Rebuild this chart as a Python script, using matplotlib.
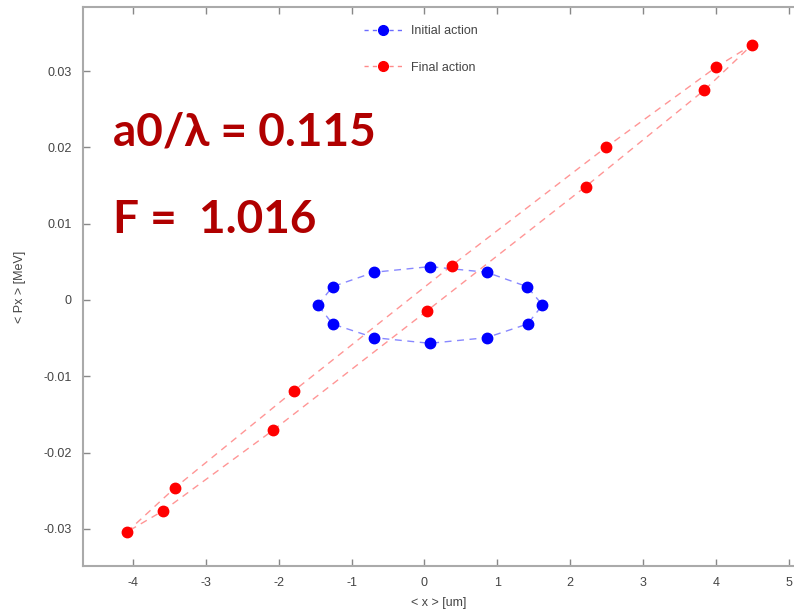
import matplotlib.pyplot as plt

# initial action: ring of 12 test particles
x_init = [-1.46, -1.26, -0.69, 0.075, 0.853, 1.41, 1.62, 1.415, 0.853, 0.075, -0.69, -1.26]
px_init = [-0.00066, 0.00174, 0.00363, 0.00437, 0.00363, 0.00174,
           -0.00066, -0.00315, -0.00494, -0.00568, -0.00494, -0.00315]

# final action: same 12 particles after the interaction
x_final = [-4.08, -3.42, -1.79, 0.373, 2.49, 4.0, 4.49, 3.84, 2.21, 0.034, -2.08, -3.58]
px_final = [-0.0304, -0.0246, -0.0119, 0.0045, 0.0200, 0.0305,
            0.0334, 0.0275, 0.01485, -0.00144, -0.0171, -0.0276]

xticks = [-4, -3, -2, -1, 0, 1, 2, 3, 4, 5]
yticks = [-0.03, -0.02, -0.01, 0, 0.01, 0.02, 0.03]
ytick_labels = ["-0.03", "-0.02", "-0.01", "0", "0.01", "0.02", "0.03"]

plt.rcParams["font.family"] = ["Liberation Sans", "DejaVu Sans"]
plt.rcParams["axes.unicode_minus"] = False

fig = plt.figure(figsize=(7.94, 6.13), dpi=100)
ax = fig.add_axes([0.104, 0.0767, 0.896, 0.912])

def closed(v):
    return list(v) + [v[0]]

ax.plot(closed(x_init), closed(px_init), ls=(0, (5, 4)), lw=1.0,
        color="#6b6bff", alpha=0.8)
ax.plot(x_init, px_init, ls="none", marker="o", ms=7.5, color="#0000ff",
        mec="#0000ff")
ax.plot(closed(x_final), closed(px_final), ls=(0, (5, 4)), lw=1.0,
        color="#ff8a8a", alpha=0.9)
ax.plot(x_final, px_final, ls="none", marker="o", ms=7.5, color="#ff0000",
        mec="#ff0000")

# legend handles: dashed line with marker (gnuplot look)
h1, = ax.plot([], [], ls=(0, (3, 3)), lw=1.0, color="#6b6bff", marker="o",
              ms=7, mfc="#0000ff", mec="#0000ff")
h2, = ax.plot([], [], ls=(0, (3, 3)), lw=1.0, color="#ff8a8a", marker="o",
              ms=7, mfc="#ff0000", mec="#ff0000")
leg = ax.legend([h1, h2], ["Initial action", "Final action"],
                loc="upper left", bbox_to_anchor=(358 / 794, 1 - 19 / 613),
                bbox_transform=fig.transFigure, frameon=False, fontsize=9,
                handlelength=3.0, handletextpad=0.75, labelspacing=1.95,
                borderpad=0, numpoints=1)
for t in leg.get_texts():
    t.set_color("#444444")

ax.text(-4.27, 0.0220, "a0/λ = 0.115", fontsize=33, fontweight="bold",
        color="#b00000", family=["Lato", "DejaVu Sans"], va="center")
ax.text(-4.27, 0.0105, "F =  1.016", fontsize=33, fontweight="bold",
        color="#b00000", family=["Lato", "DejaVu Sans"], va="center")

ax.set_xlim(-4.689, 5.07)
ax.set_ylim(-0.03486, 0.0384)
ax.set_xticks(xticks)
ax.set_yticks(yticks)
ax.set_yticklabels(ytick_labels)
ax.tick_params(direction="in", length=5, width=1, color="#888888",
               labelsize=9, labelcolor="#444444", top=True, right=False, pad=8)
ax.tick_params(axis="y", pad=8)

for s in ["left", "bottom", "top"]:
    ax.spines[s].set_color("#aaaaaa")
    ax.spines[s].set_linewidth(1.5)
ax.spines["right"].set_visible(False)

ax.set_xlabel("< x > [um]", fontsize=9, color="#444444", labelpad=6)
ax.set_ylabel("< Px > [MeV]", fontsize=9, color="#444444", labelpad=12)

fig.savefig("out.png", dpi=100)
